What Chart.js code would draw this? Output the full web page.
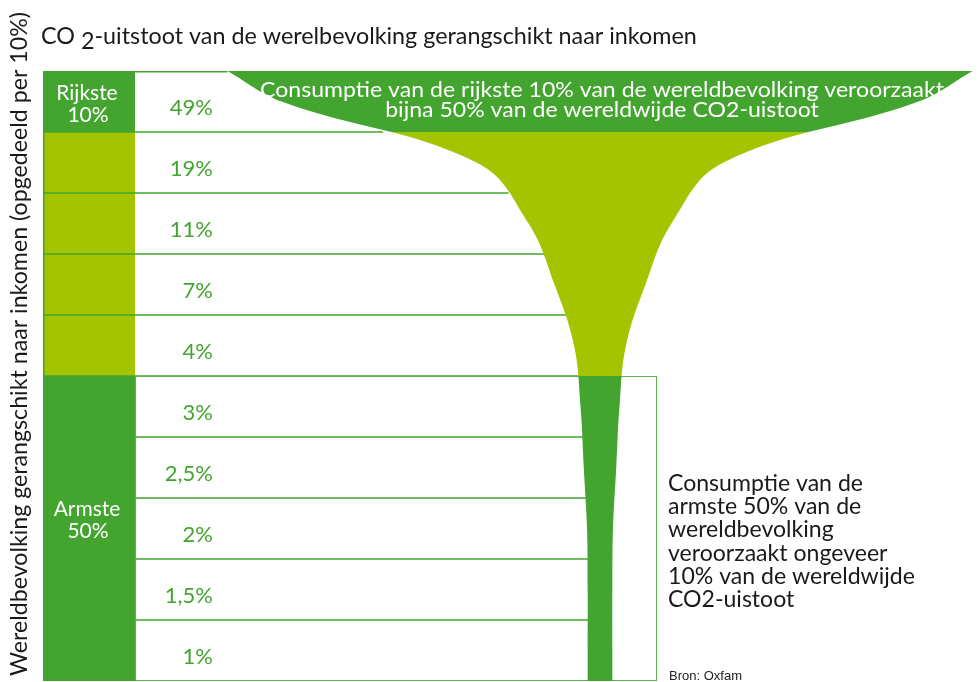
<!DOCTYPE html>
<html>
<head>
<meta charset="utf-8">
<script src="https://cdn.jsdelivr.net/npm/chart.js@4"></script>
<style>
  html, body { margin: 0; padding: 0; background: #fff; }
</style>
</head>
<body>
<canvas id="glass" width="979" height="682"></canvas>
<script>
// share of world CO2 emissions per income decile, richest first
const deciles = ['10', '9', '8', '7', '6', '5', '4', '3', '2', '1'];
const shares = [49, 19, 11, 7, 4, 3, 2.5, 2, 1.5, 1];

const title = ['CO ', '2', '-uitstoot van de werelbevolking gerangschikt naar inkomen'];
const yTitle = 'Wereldbevolking gerangschikt naar inkomen (opgedeeld per 10%)';
const richLabel = ['Rijkste', '10%'];
const poorLabel = ['Armste', '50%'];
const richNote = ['Consumptie van de rijkste 10% van de wereldbevolking veroorzaakt',
                  'bijna 50% van de wereldwijde CO2-uistoot'];
const poorNote = ['Consumptie van de', 'armste 50% van de', 'wereldbevolking',
                  'veroorzaakt ongeveer', '10% van de wereldwijde', 'CO2-uistoot'];
const source = 'Bron: Oxfam';

const richRows = 1;   // top decile
const poorRows = 5;   // bottom five deciles

const GREEN = '#43a52f';
const LIME = '#a5c400';
const FONT = 'Lato, "Open Sans", sans-serif';

// layout
const CENTER = 600;   // px, axis of the glass
const UNIT = 13;      // px per % of emissions
const STEM = 1.9;     // narrowest stem width, in %
const RIM = 1.17;     // the rim flares out past the top decile
const PAD = { left: 43, top: 71, right: 0, bottom: 1 };
const W = 979;
const COL_RIGHT = 135;
const BOX_RIGHT = 656;

// glass outline: width at the middle of each decile row = its share
const outline = [{ y: 0, w: shares[0] * RIM }]
  .concat(shares.map((s, i) => ({ y: i + 0.5, w: Math.max(s, STEM) })))
  .concat([{ y: shares.length, w: Math.max(shares[shares.length - 1], STEM) }]);
const leftEdge = outline.map(p => ({ x: -p.w / 2, y: p.y }));
const rightEdge = outline.map(p => ({ x: p.w / 2, y: p.y }));

const pct = v => String(v).replace('.', ',') + '%';

function fitSize(ctx, text, family, width) {
  ctx.font = '20px ' + family;
  return 20 * width / ctx.measureText(text).width;
}

// green for the richest and poorest groups, lime in between
function glassFill(c) {
  const chart = c.chart;
  const area = chart.chartArea;
  if (!area) return GREEN;
  const ys = chart.scales.y;
  const h = area.bottom - area.top;
  const a = (ys.getPixelForValue(richRows) - area.top) / h;
  const b = (ys.getPixelForValue(shares.length - poorRows) - area.top) / h;
  const g = chart.ctx.createLinearGradient(0, area.top, 0, area.bottom);
  g.addColorStop(0, GREEN);
  g.addColorStop(a, GREEN);
  g.addColorStop(a, LIME);
  g.addColorStop(b, LIME);
  g.addColorStop(b, GREEN);
  g.addColorStop(1, GREEN);
  return g;
}

const decor = {
  id: 'decor',
  beforeDatasetsDraw(chart) {
    const { ctx } = chart;
    const ys = chart.scales.y;
    const edge = chart.getDatasetMeta(0).dataset;
    const rowY = i => ys.getPixelForValue(i);
    const edgeX = py => {
      const p = edge.interpolate({ y: py }, 'y');
      return p ? p.x : CENTER;
    };
    ctx.save();

    // left column blocks
    const midTop = rowY(richRows), midBot = rowY(shares.length - poorRows);
    ctx.fillStyle = GREEN;
    ctx.fillRect(PAD.left, rowY(0), COL_RIGHT - PAD.left, midTop - rowY(0));
    ctx.fillStyle = LIME;
    ctx.fillRect(PAD.left, midTop, COL_RIGHT - PAD.left, midBot - midTop);
    ctx.fillStyle = GREEN;
    ctx.fillRect(PAD.left, midBot, COL_RIGHT - PAD.left, rowY(shares.length) - midBot);

    // row lines
    ctx.strokeStyle = GREEN;
    ctx.lineWidth = 1.5;
    ctx.beginPath();
    ctx.moveTo(PAD.left, PAD.top + 0.75);
    ctx.lineTo(edgeX(PAD.top), PAD.top + 0.75);
    for (let i = 1; i < shares.length; i++) {
      ctx.moveTo(PAD.left, rowY(i));
      ctx.lineTo(edgeX(rowY(i)) + 2, rowY(i));
    }
    ctx.moveTo(PAD.left + 0.75, midTop);
    ctx.lineTo(PAD.left + 0.75, midBot);
    ctx.stroke();

    // box round the poorest half
    ctx.strokeStyle = '#5cb34a';
    ctx.lineWidth = 1;
    ctx.strokeRect(COL_RIGHT + 0.5, midBot + 0.5, BOX_RIGHT - COL_RIGHT, rowY(shares.length) - midBot - 1);

    // values
    ctx.fillStyle = GREEN;
    ctx.font = '22px ' + FONT;
    ctx.textAlign = 'right';
    ctx.textBaseline = 'alphabetic';
    shares.forEach((s, i) => {
      ctx.fillText(pct(s), 213, (rowY(i) + rowY(i + 1)) / 2 + 13);
    });

    // group labels
    ctx.fillStyle = '#fff';
    ctx.textAlign = 'center';
    ctx.font = '21px ' + FONT;
    const richMid = (rowY(0) + midTop) / 2;
    ctx.fillText(richLabel[0], 87, richMid - 2);
    ctx.fillText(richLabel[1], 88, richMid + 20);
    const poorMid = (midBot + rowY(shares.length)) / 2;
    ctx.fillText(poorLabel[0], 87, poorMid - 13);
    ctx.fillText(poorLabel[1], 88, poorMid + 9);

    // title with lowered 2
    ctx.fillStyle = '#1a1a1a';
    ctx.textAlign = 'left';
    ctx.font = fitSize(ctx, title.join(''), FONT, 656) + 'px ' + FONT;
    let x = 41;
    ctx.fillText(title[0], x, 44);
    x += ctx.measureText(title[0]).width;
    ctx.fillText(title[1], x, 49);
    x += ctx.measureText(title[1]).width;
    ctx.fillText(title[2], x, 44);

    // vertical axis title
    ctx.save();
    ctx.translate(27, 344);
    ctx.rotate(-Math.PI / 2);
    ctx.textAlign = 'center';
    ctx.font = fitSize(ctx, yTitle, FONT, 664) + 'px ' + FONT;
    ctx.fillText(yTitle, 0, 0);
    ctx.restore();

    // note on the poorest half
    ctx.font = fitSize(ctx, poorNote[4], FONT, 247) + 'px ' + FONT;
    poorNote.forEach((t, i) => ctx.fillText(t, 668, 491 + i * 23.2));

    ctx.font = '13px "Liberation Sans", Arial, sans-serif';
    ctx.fillStyle = '#222';
    ctx.fillText(source, 669, 680);
    ctx.restore();
  },
  afterDatasetsDraw(chart) {
    const { ctx } = chart;
    ctx.save();
    ctx.fillStyle = '#fff';
    ctx.textAlign = 'center';
    ctx.font = '22px ' + FONT;
    const sx = 684 / ctx.measureText(richNote[0]).width;
    richNote.forEach((t, i) => {
      ctx.save();
      ctx.translate(CENTER + 2, 97 + i * 20);
      ctx.scale(sx, 1);
      ctx.fillText(t, 0, 0);
      ctx.restore();
    });
    ctx.restore();
  }
};

new Chart(document.getElementById('glass'), {
  type: 'line',
  data: {
    datasets: [
      {
        label: 'links',
        data: leftEdge,
        fill: '+1',
        backgroundColor: glassFill
      },
      {
        label: 'rechts',
        data: rightEdge,
        fill: false
      }
    ]
  },
  options: {
    responsive: false,
    animation: false,
    indexAxis: 'y',
    layout: { padding: PAD },
    elements: {
      line: { tension: 0.4, borderWidth: 0, borderColor: 'rgba(0,0,0,0)' },
      point: { radius: 0 }
    },
    scales: {
      x: {
        type: 'linear',
        display: false,
        min: -(CENTER - PAD.left) / UNIT,
        max: (W - PAD.right - CENTER) / UNIT
      },
      y: {
        type: 'linear',
        display: false,
        reverse: true,
        min: 0,
        max: shares.length
      }
    },
    plugins: {
      legend: { display: false },
      tooltip: { enabled: false }
    }
  },
  plugins: [decor]
});
</script>
</body>
</html>
